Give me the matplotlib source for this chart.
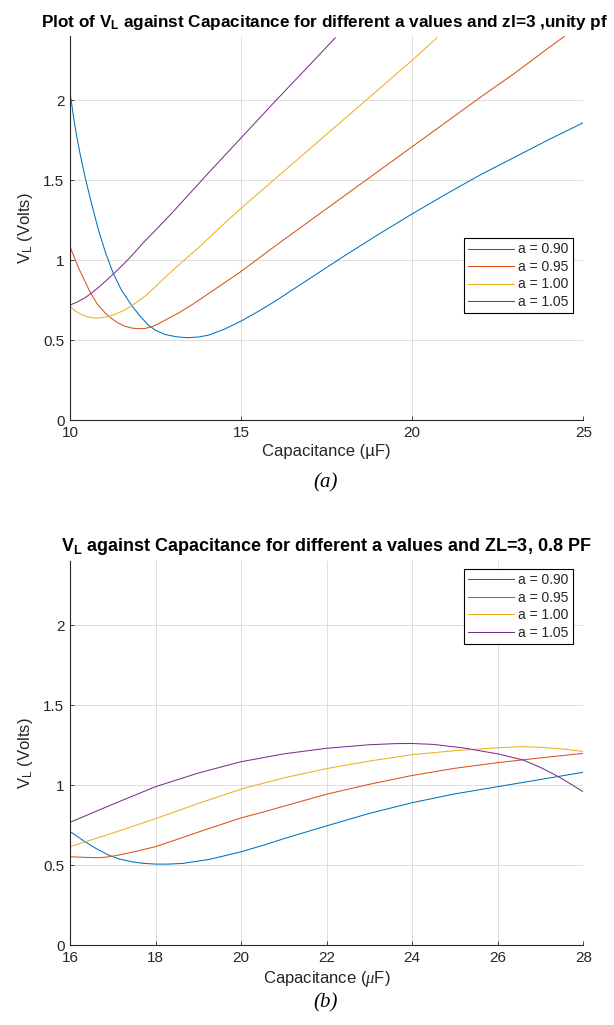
import matplotlib
matplotlib.use("Agg")
import matplotlib.pyplot as plt

plt.rcParams['font.family'] = ['Liberation Sans', 'DejaVu Sans']
plt.rcParams['mathtext.fontset'] = 'custom'
plt.rcParams['mathtext.rm'] = 'Liberation Sans'
plt.rcParams['mathtext.it'] = 'Liberation Serif:italic'

# MATLAB default line order
colors = ['#0072BD', '#D95319', '#EDB120', '#7E2F8E']
a_labels = ['a = 0.90', 'a = 0.95', 'a = 1.00', 'a = 1.05']

# ---- (a) unity pf, zl = 3 ----
cap_a_090 = [10, 10.1, 10.2, 10.3, 10.44, 10.6, 10.83, 11.05, 11.27, 11.5, 11.81, 12.05, 12.29, 12.5,
             12.78, 13.1, 13.42, 13.75, 14.05, 14.5, 15, 15.5, 16, 17, 18, 19, 20, 21, 22, 23, 24, 25]
vl_a_090 = [2.05, 1.90, 1.77, 1.66, 1.52, 1.38, 1.19, 1.04, 0.915, 0.815, 0.715, 0.65, 0.595, 0.562,
            0.536, 0.522, 0.516, 0.52, 0.532, 0.568, 0.62, 0.68, 0.745, 0.885, 1.025, 1.16, 1.29, 1.415,
            1.535, 1.645, 1.755, 1.86]

cap_a_095 = [10, 10.24, 10.59, 10.8, 11.03, 11.22, 11.42, 11.6, 11.81, 12.0, 12.2, 12.4, 12.59, 12.85,
             13.17, 13.55, 13.95, 14.45, 15, 15.5, 16, 17, 18, 19, 20, 21, 22, 23, 24, 24.45]
vl_a_095 = [1.085, 0.957, 0.80, 0.725, 0.67, 0.635, 0.606, 0.588, 0.576, 0.572, 0.574, 0.585, 0.604,
            0.634, 0.67, 0.72, 0.777, 0.85, 0.93, 1.01, 1.09, 1.245, 1.40, 1.555, 1.71, 1.865, 2.02,
            2.17, 2.33, 2.40]

cap_a_100 = [10, 10.15, 10.34, 10.53, 10.73, 10.93, 11.12, 11.35, 11.61, 11.9, 12.2, 12.5, 12.78,
             13.07, 13.37, 13.8, 14.25, 14.56, 15, 16, 17, 18, 19, 20, 20.72]
vl_a_100 = [0.713, 0.683, 0.66, 0.646, 0.638, 0.641, 0.649, 0.665, 0.69, 0.73, 0.777, 0.835, 0.894,
            0.95, 1.007, 1.087, 1.178, 1.24, 1.325, 1.51, 1.695, 1.88, 2.065, 2.25, 2.39]

cap_a_105 = [10, 10.2, 10.44, 10.63, 10.83, 11.05, 11.27, 11.5, 11.81, 12.1, 12.44, 13, 14, 15, 16,
             17, 17.75]
vl_a_105 = [0.72, 0.738, 0.766, 0.795, 0.83, 0.872, 0.915, 0.962, 1.03, 1.10, 1.175, 1.30, 1.535,
            1.765, 1.995, 2.22, 2.39]

# ---- (b) 0.8 pf, ZL = 3 ----
cap_b_090 = [16, 16.35, 16.6, 16.9, 17.15, 17.45, 17.7, 18, 18.3, 18.63, 19.25, 20, 20.57, 21, 22,
             23, 24, 25, 26, 27, 28]
vl_b_090 = [0.71, 0.646, 0.605, 0.5625, 0.538, 0.52, 0.511, 0.506, 0.506, 0.51, 0.535, 0.583, 0.628,
            0.665, 0.745, 0.823, 0.89, 0.945, 0.99, 1.035, 1.08]

cap_b_095 = [16, 16.35, 16.67, 16.9, 17.14, 17.5, 18, 18.5, 19.02, 20, 20.57, 21, 22, 23, 24,
             25, 26, 27, 28]
vl_b_095 = [0.552, 0.548, 0.546, 0.551, 0.5625, 0.583, 0.615, 0.66, 0.708, 0.795, 0.835, 0.868,
            0.943, 1.005, 1.06, 1.105, 1.14, 1.17, 1.198]

cap_b_100 = [16, 17, 18, 19, 20, 21, 22, 23, 24, 25, 26, 26.55, 27, 27.5, 28]
vl_b_100 = [0.615, 0.70, 0.79, 0.885, 0.975, 1.045, 1.103, 1.15, 1.19, 1.215, 1.233, 1.24, 1.236,
            1.226, 1.21]

cap_b_105 = [16, 17, 18, 19, 20, 21, 22, 23, 23.6, 24, 24.5, 25.2, 26, 26.6, 27, 27.33, 27.5, 28]
vl_b_105 = [0.767, 0.88, 0.99, 1.075, 1.146, 1.195, 1.23, 1.252, 1.259, 1.26, 1.254, 1.232, 1.195,
            1.156, 1.11, 1.065, 1.04, 0.958]

x_ticks_a = [10, 15, 20, 25]
x_ticks_b = [16, 18, 20, 22, 24, 26, 28]
y_ticks = [0, 0.5, 1, 1.5, 2]
y_tick_labels = ['0', '0.5', '1', '1.5', '2']

TEXT = '#262626'


def style_axes(ax):
    ax.set_ylim(0, 2.4)
    ax.set_yticks(y_ticks)
    ax.set_yticklabels(y_tick_labels)
    ax.grid(True, color='#dedede', linewidth=0.7)
    ax.set_axisbelow(True)
    for side in ['top', 'right']:
        ax.spines[side].set_visible(False)
    for side in ['left', 'bottom']:
        ax.spines[side].set_color(TEXT)
        ax.spines[side].set_linewidth(0.8)
    ax.tick_params(direction='in', length=3, width=0.6, colors=TEXT, labelsize=11, pad=4)
    ax.set_ylabel(r'$\mathregular{V_L}$ (Volts)', fontsize=12, color=TEXT, labelpad=6)


def add_legend(ax, y_top):
    leg = ax.legend(loc='upper right', bbox_to_anchor=(0.98, y_top), borderaxespad=0,
                    fontsize=10, handlelength=3.3, labelspacing=0.25, handletextpad=0.3,
                    borderpad=0.3, fancybox=False, framealpha=1, edgecolor='black')
    leg.get_frame().set_linewidth(0.8)
    for t in leg.get_texts():
        t.set_color(TEXT)


fig = plt.figure(figsize=(6.14, 10.25), dpi=100)

ax1 = fig.add_axes([0.114, 0.590, 0.836, 0.3746])
series_a = [(cap_a_090, vl_a_090), (cap_a_095, vl_a_095), (cap_a_100, vl_a_100), (cap_a_105, vl_a_105)]
for (cx, vy), c, lab in zip(series_a, colors, a_labels):
    ax1.plot(cx, vy, color=c, linewidth=0.75, label=lab)
ax1.set_xlim(10, 25)
ax1.set_xticks(x_ticks_a)
style_axes(ax1)
ax1.set_xlabel('Capacitance (µF)', fontsize=12, color=TEXT, labelpad=3)
ax1.set_title(r'Plot of $\mathregular{V_L}$ against Capacitance for different a values and zl=3 ,unity pf',
              fontsize=12.3, fontweight='bold', pad=7, x=0.495)
add_legend(ax1, 0.474)

ax2 = fig.add_axes([0.114, 0.078, 0.836, 0.3746])
series_b = [(cap_b_090, vl_b_090), (cap_b_095, vl_b_095), (cap_b_100, vl_b_100), (cap_b_105, vl_b_105)]
for (cx, vy), c, lab in zip(series_b, colors, a_labels):
    ax2.plot(cx, vy, color=c, linewidth=0.75, label=lab)
ax2.set_xlim(16, 28)
ax2.set_xticks(x_ticks_b)
style_axes(ax2)
ax2.set_xlabel(r'Capacitance ($\mu$F)', fontsize=12, color=TEXT, labelpad=3)
ax2.set_title(r'$\mathregular{V_L}$ against Capacitance for different a values and ZL=3, 0.8 PF',
              fontsize=13, fontweight='bold', pad=7)
add_legend(ax2, 0.979)

# figure captions
fig.text(0.530, 1 - 483 / 1025, '(a)', family='Liberation Serif', style='italic',
         fontsize=15, ha='center', va='center')
fig.text(0.530, 1 - 1003 / 1025, '(b)', family='Liberation Serif', style='italic',
         fontsize=15, ha='center', va='center')

fig.savefig('out.png', dpi=100)
